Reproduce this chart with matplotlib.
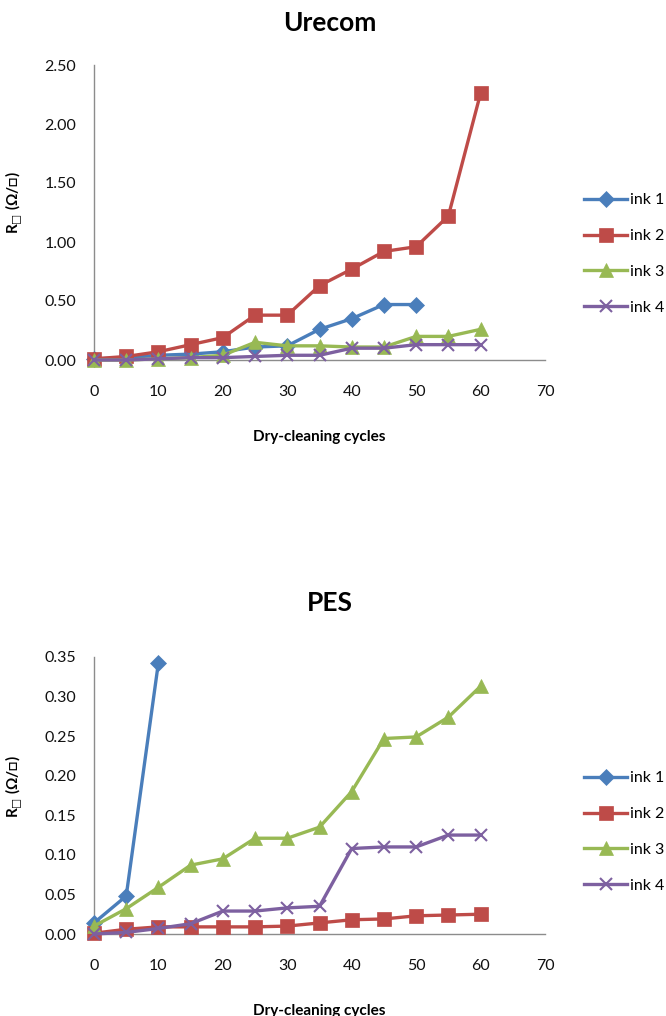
import matplotlib
matplotlib.use("Agg")
import matplotlib.pyplot as plt

plt.rcParams['font.family'] = ['Lato', 'DejaVu Sans']
plt.rcParams['mathtext.fontset'] = 'dejavusans'

cycles = [0, 5, 10, 15, 20, 25, 30, 35, 40, 45, 50, 55, 60]
ink_labels = ["ink 1", "ink 2", "ink 3", "ink 4"]

# Sheet resistance after dry-cleaning, Urecom substrate
urecom_ink1 = [0.01, 0.02, 0.04, 0.05, 0.07, 0.11, 0.12, 0.26, 0.35, 0.47, 0.47]
urecom_ink2 = [0.01, 0.03, 0.07, 0.13, 0.19, 0.38, 0.38, 0.63, 0.77, 0.92, 0.96, 1.22, 2.26]
urecom_ink3 = [0.00, 0.00, 0.01, 0.02, 0.04, 0.15, 0.12, 0.12, 0.11, 0.11, 0.20, 0.20, 0.26]
urecom_ink4 = [0.00, 0.00, 0.01, 0.02, 0.02, 0.03, 0.04, 0.04, 0.10, 0.10, 0.13, 0.13, 0.13]

# Sheet resistance after dry-cleaning, PES substrate
pes_ink1 = [0.014, 0.048, 0.343]
pes_ink2 = [0.001, 0.006, 0.009, 0.009, 0.009, 0.009, 0.010, 0.014, 0.018, 0.019, 0.023, 0.024, 0.025]
pes_ink3 = [0.010, 0.032, 0.059, 0.087, 0.095, 0.121, 0.121, 0.135, 0.180, 0.247, 0.249, 0.274, 0.313]
pes_ink4 = [0.000, 0.002, 0.007, 0.013, 0.029, 0.029, 0.033, 0.035, 0.108, 0.110, 0.110, 0.125, 0.125]

urecom_yticks = [0.0, 0.5, 1.0, 1.5, 2.0, 2.5]
pes_yticks = [0.0, 0.05, 0.10, 0.15, 0.20, 0.25, 0.30, 0.35]
x_ticks = [0, 10, 20, 30, 40, 50, 60, 70]

colors = ["#4A7EBB", "#BE4B48", "#98B954", "#7D60A0"]
markers = ["D", "s", "^", "x"]
msizes = [8, 10, 10, 9]

W, H = 666, 1016
fig = plt.figure(figsize=(W / 100, H / 100), dpi=100)


def make_axes(top, bottom, left=94, right=545):
    return fig.add_axes([left / W, 1 - bottom / H, (right - left) / W, (bottom - top) / H])


def draw_panel(ax, series, yticks, title, title_y, legend_y):
    for i, ys in enumerate(series):
        ax.plot(cycles[:len(ys)], ys, color=colors[i], lw=2.4, marker=markers[i],
                ms=msizes[i], mew=1.5 if markers[i] == "x" else 0.5,
                mec=colors[i], label=ink_labels[i], clip_on=False, zorder=3)
    ax.set_xlim(0, 70)
    ax.set_ylim(yticks[0], yticks[-1])
    ax.set_xticks(x_ticks)
    ax.set_yticks(yticks)
    ax.set_yticklabels([f"{v:.2f}" for v in yticks])
    for s in ("top", "right"):
        ax.spines[s].set_visible(False)
    for s in ("left", "bottom"):
        ax.spines[s].set_color("#8C8C8C")
        ax.spines[s].set_linewidth(1.0)
    ax.tick_params(length=0, labelsize=11.5, colors="#111111", pad=13)
    ax.tick_params(axis="x", pad=18)
    ax.set_xlabel("Dry-cleaning cycles", fontsize=11, fontweight="bold", labelpad=22)
    ax.set_ylabel("R$_{\u25a1}$ (\u03a9/\u25a1)", fontsize=11, fontweight="bold")
    ax.yaxis.set_label_coords(-0.152, 0.532)
    fig.text(330 / W, 1 - title_y / H, title, ha="center", va="center",
             fontsize=19, fontweight="bold")
    fig.legend(*ax.get_legend_handles_labels(), loc="center left",
               bbox_to_anchor=(584 / W, 1 - legend_y / H), frameon=False,
               fontsize=11.5, handlelength=2.7, labelspacing=1.35, handletextpad=0.2,
               borderaxespad=0, borderpad=0)


ax1 = make_axes(65, 360)
draw_panel(ax1, [urecom_ink1, urecom_ink2, urecom_ink3, urecom_ink4],
           urecom_yticks, "Urecom", 23, 254)

ax2 = make_axes(657, 934)
draw_panel(ax2, [pes_ink1, pes_ink2, pes_ink3, pes_ink4],
           pes_yticks, "PES", 603, 832)

fig.savefig("out.png", dpi=100)
